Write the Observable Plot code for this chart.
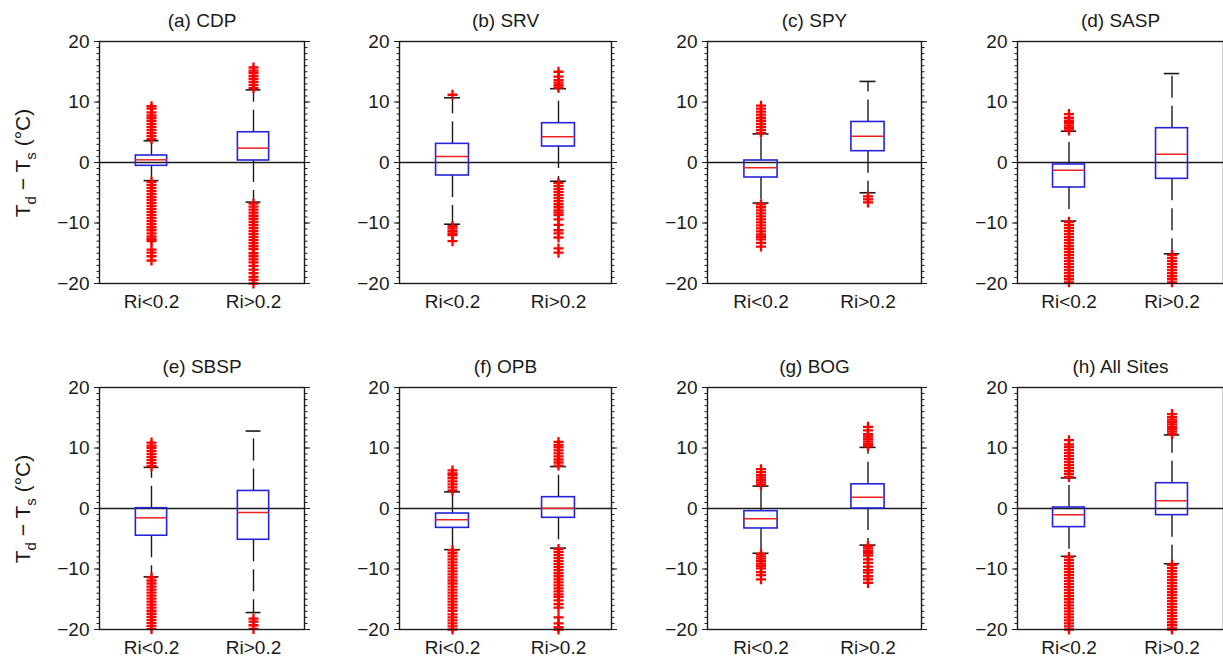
<!DOCTYPE html>
<html><head><meta charset="utf-8">
<script src="https://cdn.jsdelivr.net/npm/d3@7"></script>
<script src="https://cdn.jsdelivr.net/npm/@observablehq/plot@0.6"></script>
<style>
html,body{margin:0;padding:0;background:#fff;overflow:hidden;}
#chart{position:relative;width:1223px;height:666px;}
#chart svg{position:absolute;}
</style></head><body><div id="chart"></div>
<script>
// ---------- data ----------
const sites = ["CDP","SRV","SPY","SASP","SBSP","OPB","BOG","All Sites"];
const panelLetters = ["(a)","(b)","(c)","(d)","(e)","(f)","(g)","(h)"];
const categories = ["Ri<0.2","Ri>0.2"];
const yTicks = [-20,-10,0,10,20];
// per site: [Ri<0.2, Ri>0.2]
const q3 = [[1.16,5.0],[3.08,6.5],[0.33,6.7],[-0.33,5.67],[0.05,2.9],[-0.83,1.87],[-0.44,4.0],[0.17,4.18]];
const median = [[0.44,2.37],[0.99,4.24],[-0.88,4.35],[-1.27,1.38],[-1.54,-0.66],[-1.87,0.05],[-1.7,1.87],[-1.05,1.27]];
const q1 = [[-0.55,0.33],[-2.15,2.64],[-2.48,1.87],[-4.13,-2.7],[-4.5,-5.17],[-3.2,-1.54],[-3.3,0.0],[-3.08,-1.1]];
const whiskerHigh = [[3.6,12.0],[10.7,12.2],[4.73,13.4],[5.17,14.7],[6.8,12.8],[2.75,6.93],[3.7,10.1],[5.06,12.16]];
const whiskerLow = [[-3.0,-6.55],[-10.2,-3.1],[-6.7,-5.0],[-9.68,-15.1],[-11.3,-17.2],[-6.8,-6.55],[-7.4,-6.05],[-7.9,-9.13]];
const upperOutliers = [
  [[3.9,4.4,4.9,5.4,5.9,6.4,6.9,7.4,7.8,8.3,8.9,9.3],[12.3,12.8,13.3,13.8,14.3,14.8,15.2,15.7]],
  [[11.2],[12.4,12.8,13.2,13.6,14.2,15.0]],
  [[4.9,5.4,5.9,6.4,6.9,7.4,7.9,8.4,8.9,9.4],[]],
  [[5.3,5.7,6.1,6.5,6.9,7.4,8.0],[]],
  [[7.0,7.5,8.0,8.5,9.0,9.5,10.0,10.4,10.9],[]],
  [[3.0,3.5,4.0,4.5,5.0,5.5,5.8,6.3],[7.1,7.6,8.1,8.6,9.1,9.6,10.1,10.5,11.0]],
  [[3.9,4.3,4.7,5.1,5.5,6.0,6.5],[10.3,10.7,11.1,11.5,11.9,12.3,12.9,13.5]],
  [[5.2,5.7,6.2,6.7,7.2,7.7,8.2,8.7,9.2,9.7,10.2,10.6,11.3],[12.3,12.7,13.1,13.5,13.9,14.3,14.7,15.1,15.6]]
];
const lowerOutliers = [
  [[-3.2,-3.7,-4.2,-4.7,-5.2,-5.7,-6.2,-6.7,-7.2,-7.7,-8.2,-8.7,-9.2,-9.7,-10.2,-10.7,-11.2,-11.7,-12.2,-12.6,-13.0,-14.4,-14.9,-15.5,-16.2],
   [-6.8,-7.3,-7.8,-8.3,-8.8,-9.3,-9.8,-10.3,-10.8,-11.3,-11.8,-12.3,-12.8,-13.3,-13.8,-14.3,-15.0,-15.5,-16.0,-16.5,-17.1,-17.7,-18.3,-18.9,-19.4,-20.0]],
  [[-10.5,-10.9,-11.3,-11.7,-12.0,-13.0],
   [-3.4,-3.9,-4.4,-4.9,-5.4,-5.9,-6.4,-6.9,-7.4,-7.9,-8.3,-8.7,-9.4,-10.3,-11.2,-11.7,-12.4,-14.2,-14.9]],
  [[-6.9,-7.4,-7.9,-8.4,-8.9,-9.4,-9.9,-10.4,-10.9,-11.4,-11.9,-12.3,-12.7,-13.3,-13.9],
   [-5.6,-6.1,-6.6]],
  [[-9.8,-10.3,-10.8,-11.3,-11.8,-12.3,-12.8,-13.3,-13.8,-14.3,-14.8,-15.3,-15.8,-16.3,-16.8,-17.3,-17.8,-18.3,-18.8,-19.3,-19.8],
   [-15.3,-15.8,-16.3,-16.8,-17.3,-17.8,-18.3,-18.8,-19.3,-19.8]],
  [[-11.4,-11.9,-12.4,-12.9,-13.4,-13.9,-14.4,-14.9,-15.4,-15.9,-16.4,-16.9,-17.4,-17.9,-18.4,-18.9,-19.4,-19.9],
   [-18.2,-18.7,-19.3,-19.9]],
  [[-6.9,-7.4,-7.9,-8.4,-8.9,-9.4,-9.9,-10.4,-10.9,-11.4,-11.9,-12.4,-12.9,-13.4,-13.9,-14.4,-14.9,-15.4,-15.9,-16.4,-16.9,-17.5,-18.0,-18.5,-19.0,-19.5,-20.0],
   [-6.7,-7.2,-7.7,-8.2,-8.7,-9.2,-9.7,-10.2,-10.7,-11.2,-11.7,-12.2,-12.7,-13.2,-13.7,-14.2,-14.6,-15.2,-15.8,-16.4,-18.0,-19.0,-19.6,-20.0]],
  [[-7.5,-7.9,-8.3,-8.7,-9.1,-9.5,-9.9,-10.5,-11.0,-11.7],
   [-6.2,-6.6,-7.0,-7.4,-7.8,-8.4,-9.0,-9.6,-10.2,-10.6,-11.2,-11.7,-12.3]],
  [[-8.0,-8.5,-9.0,-9.5,-10.0,-10.5,-11.0,-11.5,-12.0,-12.5,-13.0,-13.5,-14.0,-14.5,-15.0,-15.5,-16.0,-16.5,-17.0,-17.5,-18.0,-18.5,-19.0,-19.5,-20.0],
   [-9.3,-9.8,-10.3,-10.8,-11.3,-11.8,-12.3,-12.8,-13.3,-13.8,-14.3,-14.8,-15.3,-15.8,-16.3,-16.8,-17.3,-17.8,-18.3,-18.8,-19.3,-19.8,-20.0]]
];

// ---------- layout ----------
const colLeft = [98.5, 399, 707.3, 1017];
const colWidth = [205, 212, 214, 206];
const rowTop = [41, 387];
const frameH = 242;
const ml = 90, mr = 12, mt = 45, mb = 40;
const font = "'Liberation Sans', Arial, Helvetica, sans-serif";
const boxColor = "#2424d8", medColor = "#ee2020", outColor = "#ff0000", ink = "#1a1a1a";
const minorTicks = d3.range(-20, 20.5, 1);

const plusSymbol = {
  draw(ctx, size) {
    const h = Math.sqrt(size / Math.PI);
    ctx.moveTo(-h, 0); ctx.lineTo(h, 0);
    ctx.moveTo(0, -h); ctx.lineTo(0, h);
  }
};

const chart = document.getElementById("chart");

sites.forEach((site, i) => {
  const col = i % 4, row = Math.floor(i / 4);
  const W = colWidth[col];
  const band = W / 2;
  const boxInset = band * (1 - 0.31) / 2;
  const capInset = band * (1 - 0.15) / 2;
  const stats = categories.map((c, j) => ({
    cat: c, q1: q1[i][j], med: median[i][j], q3: q3[i][j],
    lo: whiskerLow[i][j], hi: whiskerHigh[i][j]
  }));
  const outl = [];
  categories.forEach((c, j) => {
    upperOutliers[i][j].forEach(v => outl.push({cat: c, v}));
    lowerOutliers[i][j].forEach(v => outl.push({cat: c, v}));
  });

  const svg = Plot.plot({
    width: ml + W + mr,
    height: mt + frameH + mb,
    marginLeft: ml, marginRight: mr, marginTop: mt, marginBottom: mb,
    x: {type: "band", domain: categories, padding: 0, label: null},
    y: {domain: [-20, 20], label: null},
    style: {fontFamily: font, fontSize: "19px", color: ink, background: "transparent", overflow: "visible", maxWidth: "none"},
    marks: [
      Plot.ruleY([0], {stroke: ink, strokeWidth: 1.3}),
      Plot.ruleX(stats, {x: "cat", y1: "q3", y2: "hi", stroke: ink, strokeWidth: 1.4, strokeDasharray: "22,8"}),
      Plot.ruleX(stats, {x: "cat", y1: "q1", y2: "lo", stroke: ink, strokeWidth: 1.4, strokeDasharray: "22,8"}),
      Plot.tickY(stats, {x: "cat", y: "hi", insetLeft: capInset, insetRight: capInset, stroke: ink, strokeWidth: 1.6}),
      Plot.tickY(stats, {x: "cat", y: "lo", insetLeft: capInset, insetRight: capInset, stroke: ink, strokeWidth: 1.6}),
      Plot.barY(stats, {x: "cat", y1: "q1", y2: "q3", fill: "none", stroke: boxColor, strokeWidth: 1.6, insetLeft: boxInset, insetRight: boxInset}),
      Plot.tickY(stats, {x: "cat", y: "med", insetLeft: boxInset, insetRight: boxInset, stroke: medColor, strokeWidth: 1.5}),
      Plot.dot(outl, {x: "cat", y: "v", symbol: plusSymbol, r: 5, fill: "none", stroke: outColor, strokeWidth: 2.3}),
      Plot.frame({stroke: ink, strokeWidth: 1.4}),
      Plot.axisY(minorTicks, {anchor: "left", tickSize: 2.5, tickFormat: () => "", label: null, stroke: ink}),
      Plot.axisY(minorTicks, {anchor: "right", tickSize: 2.5, tickFormat: () => "", label: null, stroke: ink}),
      Plot.axisY(yTicks, {anchor: "left", tickSize: 5, tickPadding: 5, fontSize: 19, label: null, stroke: ink}),
      Plot.axisY(yTicks, {anchor: "right", tickSize: 5, tickFormat: () => "", label: null, stroke: ink}),
      Plot.axisX({tickSize: 0, tickPadding: 11, fontSize: 19, label: null}),
      Plot.text([panelLetters[i] + " " + site], {text: d => d, frameAnchor: "top", lineAnchor: "bottom", dy: -15, fontSize: 19, fill: ink})
    ]
  });
  const left = colLeft[col] - ml, top = rowTop[row] - mt;
  svg.style.left = left + "px";
  svg.style.top = top + "px";

  if (col === 0) {
    const cx = 29 - left, cy = rowTop[row] + frameH / 2 + 1 - top;
    const t = d3.select(svg).append("text")
      .attr("transform", `translate(${cx},${cy}) rotate(-90)`)
      .attr("text-anchor", "middle")
      .attr("font-family", font).attr("font-size", 21).attr("fill", ink);
    t.append("tspan").text("T");
    t.append("tspan").attr("dy", 6).attr("font-size", 15).text("d");
    t.append("tspan").attr("dy", -6).text(" \u2212 T");
    t.append("tspan").attr("dy", 6).attr("font-size", 15).text("s");
    t.append("tspan").attr("dy", -6).text(" (°C)");
  }
  chart.appendChild(svg);
});
</script></body></html>
